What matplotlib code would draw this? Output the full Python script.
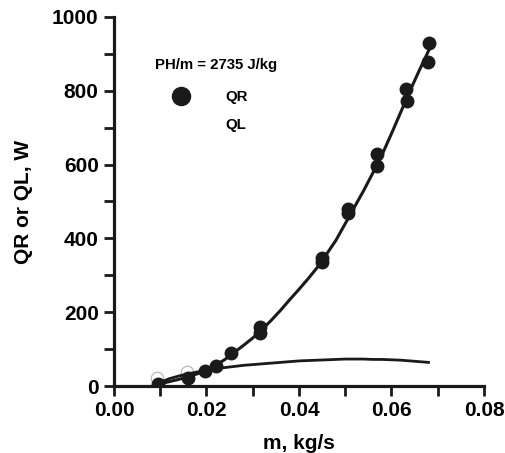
import matplotlib
matplotlib.use('Agg')
import matplotlib.pyplot as plt
from matplotlib.lines import Line2D
from matplotlib.ticker import MultipleLocator

plt.rcParams['font.family'] = ['Liberation Sans', 'DejaVu Sans']
plt.rcParams['font.weight'] = 'bold'

# measured heat QR vs mass flow
m_qr = [0.0096, 0.0161, 0.0197, 0.0221, 0.0253, 0.0316, 0.0316, 0.0449, 0.0449,
        0.0507, 0.0507, 0.0569, 0.0569, 0.0632, 0.0634, 0.0680, 0.0682]
qr = [5, 21, 41, 55, 90, 161, 143, 346, 336, 479, 470, 629, 597, 804, 773, 879, 930]

# measured QL (only the low-flow points are visible)
m_ql = [0.0092, 0.0157]
ql = [21, 38]

# fitted curves, read along their length
m_fit = [0.0096, 0.012, 0.014, 0.016, 0.018, 0.020, 0.022, 0.024, 0.026, 0.028,
         0.030, 0.032, 0.034, 0.036, 0.038, 0.040, 0.042, 0.044, 0.046, 0.048,
         0.050, 0.052, 0.054, 0.056, 0.058, 0.060, 0.062, 0.064, 0.066, 0.068]
qr_fit = [5, 12, 18, 25, 33, 43, 56, 72, 91, 110,
          130, 153, 178, 205, 234, 262, 291, 322, 358, 395,
          440, 485, 530, 578, 628, 684, 742, 800, 855, 908]
ql_fit = [8, 20, 27, 33, 38, 43, 47, 50, 53, 56,
          58, 60, 62, 64, 66, 68, 69, 70, 71, 72,
          73, 73, 73, 72, 72, 71, 70, 68, 66, 64]

fig = plt.figure(figsize=(5.05, 4.53), dpi=100)
ax = fig.add_axes([0.2257, 0.1479, 0.7327, 0.8146])

ax.plot(m_fit, qr_fit, color='#1a1a1a', lw=2.2, zorder=2)
ax.plot(m_fit, ql_fit, color='#1a1a1a', lw=2.0, zorder=2)
ax.plot(m_qr, qr, 'o', color='#1a1a1a', ms=9, zorder=3)
ax.plot(m_ql, ql, 'o', mfc='none', mec='0.7', mew=0.8, ms=9, zorder=1)

ax.set_xlim(0, 0.08)
ax.set_ylim(0, 1000)
ax.xaxis.set_major_locator(MultipleLocator(0.02))
ax.xaxis.set_minor_locator(MultipleLocator(0.01))
ax.yaxis.set_major_locator(MultipleLocator(200))
ax.yaxis.set_minor_locator(MultipleLocator(100))
ax.xaxis.set_major_formatter(matplotlib.ticker.FormatStrFormatter('%.2f'))

for side in ('top', 'right'):
    ax.spines[side].set_visible(False)
for side in ('left', 'bottom'):
    ax.spines[side].set_linewidth(2.3)
    ax.spines[side].set_color('#1a1a1a')
ax.tick_params(which='both', direction='out', length=7, width=2.0, color='#1a1a1a')
ax.tick_params(which='major', labelsize=15, pad=4)

ax.set_xlabel('m, kg/s', fontsize=15, fontweight='bold', labelpad=10)
ax.set_ylabel('QR or QL, W', fontsize=15, fontweight='bold', labelpad=14)

handles = [Line2D([], [], ls='none', marker='o', color='#1a1a1a', ms=13),
           Line2D([], [], ls='none', marker='o', mfc='none', mec='none', ms=13)]
leg = ax.legend(handles, ['QR', 'QL'], loc='upper left', bbox_to_anchor=(0.075, 0.926),
                frameon=False, title='PH/m = 2735 J/kg', prop={'size': 10.8, 'weight': 'bold'},
                handlelength=3.5, handletextpad=1.2, labelspacing=0.95)
leg.get_title().set_fontsize(10.8)
leg.get_title().set_fontweight('bold')
leg._legend_box.align = 'left'
leg._legend_box.sep = 13

fig.savefig('out.png', dpi=100)
